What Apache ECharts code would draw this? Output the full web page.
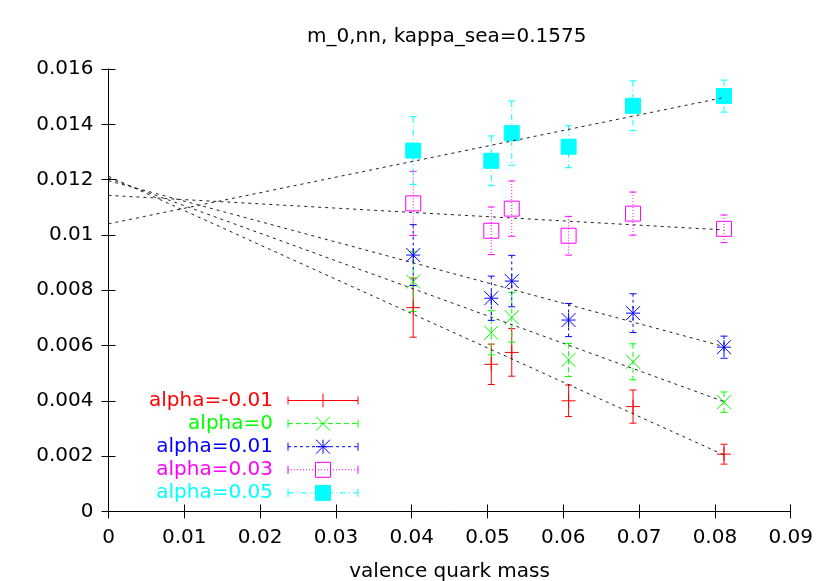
<!DOCTYPE html>
<html>
<head>
<meta charset="utf-8">
<script src="https://cdn.jsdelivr.net/npm/echarts@6/dist/echarts.min.js"></script>
<style>
    html, body { margin: 0; background: #fff; }
    #chart { width: 830px; height: 581px; }
</style>
</head>
<body>
<div id="chart"></div>
<script>
    // valence quark masses (x)
    const mass = [0.0402, 0.0505, 0.0532, 0.0607, 0.0692, 0.0812];

    const names = ['alpha=-0.01', 'alpha=0', 'alpha=0.01', 'alpha=0.03', 'alpha=0.05'];

    // m_0 values and errors for each alpha
    const m0_am001 = [0.00737, 0.00532, 0.00575, 0.00400, 0.00379, 0.00207];
    const err_am001 = [0.00107, 0.00073, 0.00086, 0.00057, 0.00060, 0.00036];
    const m0_a0 = [0.00831, 0.00646, 0.00702, 0.00548, 0.00541, 0.00395];
    const err_a0 = [0.00108, 0.00080, 0.00090, 0.00060, 0.00065, 0.00037];
    const m0_a001 = [0.00927, 0.00771, 0.00833, 0.00692, 0.00717, 0.00594];
    const err_a001 = [0.00110, 0.00080, 0.00093, 0.00060, 0.00070, 0.00040];
    const m0_a003 = [0.01114, 0.01015, 0.01095, 0.00997, 0.01077, 0.01022];
    const err_a003 = [0.00116, 0.00086, 0.00100, 0.00070, 0.00078, 0.00050];
    const m0_a005 = [0.01305, 0.01268, 0.01368, 0.01319, 0.01467, 0.01502];
    const err_a005 = [0.00123, 0.00090, 0.00116, 0.00076, 0.00090, 0.00058];

    // linear fits: value at x=0 and at the last mass
    const fitX = [0, 0.0812];
    const fit_am001 = [0.01212, 0.00204];
    const fit_a0 = [0.01205, 0.00397];
    const fit_a001 = [0.01196, 0.00596];
    const fit_a003 = [0.01143, 0.01018];
    const fit_a005 = [0.01040, 0.01497];

    const FONT = 'DejaVu Sans';
    const colors = ['#ff0000', '#00ff00', '#0000ff', '#ff00ff', '#00ffff'];
    const dashes = [null, [5, 3], [3, 3], [1, 2], [6, 3, 1, 3]];
    const symbols = [
        'M0,5L10,5M5,0L5,10',
        'M0,0L10,10M0,10L10,0',
        'M0,0L10,10M0,10L10,0M0,5L10,5M5,0L5,10',
        'M0,0L10,0L10,10L0,10Z',
        'M0,0L10,0L10,10L0,10Z'
    ];
    const symSize = [14, 14, 14, 15, 15];
    const filled = [false, false, false, false, true];

    const values = [m0_am001, m0_a0, m0_a001, m0_a003, m0_a005];
    const errors = [err_am001, err_a0, err_a001, err_a003, err_a005];
    const fits = [fit_am001, fit_a0, fit_a001, fit_a003, fit_a005];

    const series = [];
    values.forEach((vals, k) => {
        const data = mass.map((x, i) => [x, vals[i], errors[k][i]]);
        // error bars
        series.push({
            type: 'custom',
            data: data,
            silent: true,
            z: 2,
            renderItem: function (params, api) {
                const x = api.value(0), y = api.value(1), e = api.value(2);
                const top = api.coord([x, y + e]);
                const bot = api.coord([x, y - e]);
                const st = { stroke: colors[k], lineWidth: 1, lineDash: dashes[k] };
                return {
                    type: 'group',
                    children: [
                        { type: 'line', shape: { x1: top[0], y1: top[1], x2: bot[0], y2: bot[1] }, style: st },
                        { type: 'line', shape: { x1: top[0] - 3.5, y1: top[1], x2: top[0] + 3.5, y2: top[1] }, style: { stroke: colors[k], lineWidth: 1 } },
                        { type: 'line', shape: { x1: bot[0] - 3.5, y1: bot[1], x2: bot[0] + 3.5, y2: bot[1] }, style: { stroke: colors[k], lineWidth: 1 } }
                    ]
                };
            }
        });
        // markers
        series.push({
            type: 'scatter',
            data: data.map(d => [d[0], d[1]]),
            symbol: 'path://' + symbols[k],
            symbolSize: symSize[k],
            silent: true,
            z: 3,
            itemStyle: {
                color: filled[k] ? colors[k] : 'transparent',
                borderColor: colors[k],
                borderWidth: 1,
                opacity: 1
            }
        });
        // fit line
        series.push({
            type: 'line',
            data: fitX.map((x, i) => [x, fits[k][i]]),
            symbol: 'none',
            silent: true,
            z: 4,
            lineStyle: { color: '#222', width: 1, type: [3, 4] }
        });
    });

    // marker shapes for the legend, made of plain graphic elements
    function legendMarker(k, cx, cy) {
        const h = symSize[k] / 2;
        const st = { stroke: colors[k], lineWidth: 1 };
        const ln = (x1, y1, x2, y2) => ({ type: 'line', shape: { x1: cx + x1, y1: cy + y1, x2: cx + x2, y2: cy + y2 }, style: st });
        if (k === 0) return [ln(-h, 0, h, 0), ln(0, -h, 0, h)];
        if (k === 1) return [ln(-h, -h, h, h), ln(-h, h, h, -h)];
        if (k === 2) return [ln(-h, -h, h, h), ln(-h, h, h, -h), ln(-h, 0, h, 0), ln(0, -h, 0, h)];
        return [{
            type: 'rect', shape: { x: cx - h, y: cy - h, width: 2 * h, height: 2 * h },
            style: { fill: filled[k] ? colors[k] : 'none', stroke: colors[k], lineWidth: 1 }
        }];
    }

    // legend drawn as graphic: coloured text on the left, sample on the right
    let legendItems = [];
    names.forEach((name, k) => {
        const y = 400.5 + 23.1 * k;
        legendItems.push({
            type: 'text',
            x: 273, y: y,
            style: { text: name, fill: colors[k], font: '20px "' + FONT + '"', align: 'right', verticalAlign: 'middle' }
        });
        legendItems.push({
            type: 'line', shape: { x1: 288, y1: y, x2: 358, y2: y },
            style: { stroke: colors[k], lineWidth: 1, lineDash: dashes[k] }
        });
        legendItems.push({ type: 'line', shape: { x1: 288, y1: y - 4, x2: 288, y2: y + 4 }, style: { stroke: colors[k], lineWidth: 1 } });
        legendItems.push({ type: 'line', shape: { x1: 358, y1: y - 4, x2: 358, y2: y + 4 }, style: { stroke: colors[k], lineWidth: 1 } });
        legendItems = legendItems.concat(legendMarker(k, 323, y));
    });

    const axisText = { fontFamily: FONT, fontSize: 20, color: '#000' };
    const option = {
        animation: false,
        backgroundColor: '#fff',
        title: {
            text: 'm_0,nn, kappa_sea=0.1575',
            left: 307, top: 27, padding: 0,
            textStyle: { fontFamily: FONT, fontSize: 20, fontWeight: 'normal', color: '#000' }
        },
        grid: { left: 108.5, right: 39.3, top: 69, bottom: 69.6, containLabel: false, outerBoundsMode: 'none' },
        xAxis: [{
            type: 'value', min: 0, max: 0.09, interval: 0.01,
            name: 'valence quark mass', nameLocation: 'middle', nameGap: 50,
            nameTextStyle: axisText,
            axisLine: { lineStyle: { color: '#000', width: 1 } },
            axisTick: { inside: true, length: 7, lineStyle: { color: '#000' } },
            axisLabel: Object.assign({ margin: 16, formatter: v => String(+v.toFixed(2)) }, axisText),
            splitLine: { show: false }
        }, {
            type: 'value', position: 'top', min: 0, max: 0.09, interval: 0.01,
            axisLine: { lineStyle: { color: '#000', width: 1 } },
            axisTick: { inside: true, length: 7, lineStyle: { color: '#000' } },
            axisLabel: { show: false },
            splitLine: { show: false }
        }],
        yAxis: [{
            type: 'value', min: 0, max: 0.016, interval: 0.002,
            axisLine: { show: true, lineStyle: { color: '#000', width: 1 } },
            axisTick: { show: true, inside: true, length: 7, lineStyle: { color: '#000' } },
            axisLabel: Object.assign({ margin: 15, formatter: v => String(+v.toFixed(3)) }, axisText),
            splitLine: { show: false }
        }, {
            type: 'value', position: 'right', min: 0, max: 0.016, interval: 0.002,
            axisLine: { show: true, lineStyle: { color: '#000', width: 1 } },
            axisTick: { show: true, inside: true, length: 7, lineStyle: { color: '#000' } },
            axisLabel: { show: false },
            splitLine: { show: false }
        }],
        graphic: legendItems,
        series: series
    };

    const myChart = echarts.init(document.getElementById('chart'));
    myChart.setOption(option);
</script>
</body>
</html>
